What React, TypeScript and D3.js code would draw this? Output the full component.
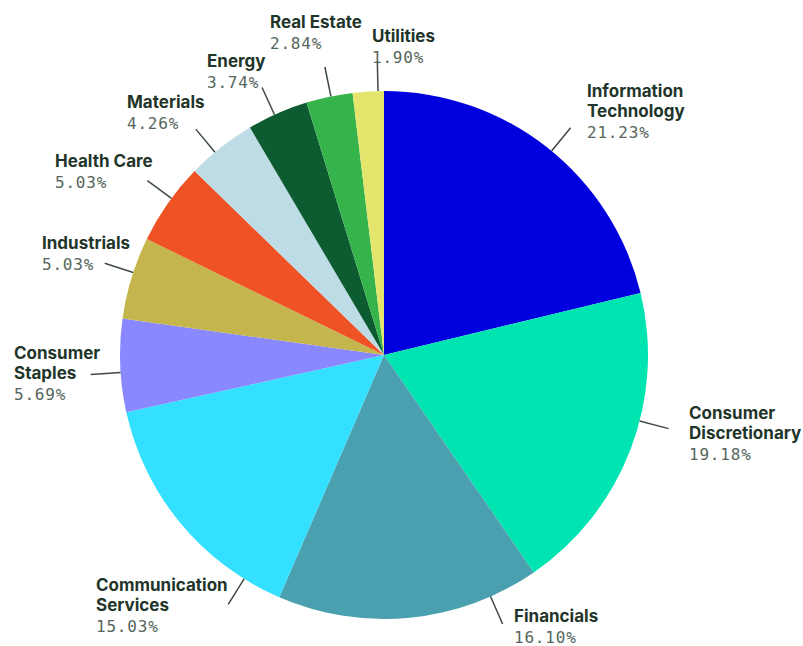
import React from "react";
import * as d3 from "d3";

// ---- data ----
const categories = [
  "Information Technology",
  "Consumer Discretionary",
  "Financials",
  "Communication Services",
  "Consumer Staples",
  "Industrials",
  "Health Care",
  "Materials",
  "Energy",
  "Real Estate",
  "Utilities",
];
const weights = [21.23, 19.18, 16.1, 15.03, 5.69, 5.03, 5.03, 4.26, 3.74, 2.84, 1.9];

// ---- styles / layout ----
const colors = [
  "#0000DE",
  "#00E4B2",
  "#4AA0AF",
  "#33E0FF",
  "#8A88FF",
  "#C4B64C",
  "#EF5325",
  "#BDDCE5",
  "#0D5C31",
  "#36B44B",
  "#E4E56C",
];
const wrapLabel = [true, true, false, true, true, false, false, false, false, false, false];
// leader line angle (degrees clockwise from 12 o'clock)
const labelAngle = [39.4, 104.5, 156.2, 212, 266.2, 288.2, 306.4, 320.2, 335.5, 348.4, 358.7];
const labelX = [587, 689, 514, 96, 14, 42, 55, 127, 207, 270, 372];
const labelY = [97, 419, 622, 591, 359, 249, 167, 108, 67, 28, 42];

const W = 803;
const H = 646;
const CX = 384;
const CY = 355;
const R = 264;
const R_LINE = 294;
const LINE_H = 20;

export default function App() {
  const pie = d3
    .pie<number>()
    .sort(null)
    .value((d) => d)
    .startAngle(0)
    .endAngle(2 * Math.PI);
  const arcs = pie(weights);
  const arc = d3.arc<d3.PieArcDatum<number>>().innerRadius(0).outerRadius(R);
  const fmt = d3.format(".2f");

  return (
    <svg
      width={W}
      height={H}
      viewBox={`0 0 ${W} ${H}`}
      style={{ position: "absolute", left: 0, top: 0, background: "#fff" }}
    >
      <g transform={`translate(${CX},${CY})`}>
        {arcs.map((a, i) => (
          <path key={i} d={arc(a) || ""} fill={colors[i]} />
        ))}
        {arcs.map((a, i) => {
          const t = (labelAngle[i] * Math.PI) / 180;
          const [x1, y1] = d3.pointRadial(t, R);
          const [x2, y2] = d3.pointRadial(t, R_LINE);
          return (
            <line
              key={"l" + i}
              x1={x1}
              y1={y1}
              x2={x2}
              y2={y2}
              stroke="#3E4A43"
              strokeWidth={1.5}
            />
          );
        })}
      </g>
      {categories.map((c, i) => {
        const lines = wrapLabel[i]
          ? [c.slice(0, c.indexOf(" ")), c.slice(c.indexOf(" ") + 1)]
          : [c];
        return (
          <g key={"t" + i}>
            <text
              x={labelX[i]}
              y={labelY[i]}
              fontFamily="Inter, 'Noto Sans', sans-serif"
              fontWeight={700}
              fontSize={17}
              fill="#1F3529"
            >
              {lines.map((ln, j) => (
                <tspan key={j} x={labelX[i]} dy={j === 0 ? 0 : LINE_H}>
                  {ln}
                </tspan>
              ))}
            </text>
            <text
              x={labelX[i]}
              y={labelY[i] + lines.length * LINE_H + 1}
              fontFamily="'DejaVu Sans Mono', monospace"
              fontSize={16}
              letterSpacing={0.8}
              fill="#55665C"
            >
              {fmt(weights[i]) + "%"}
            </text>
          </g>
        );
      })}
    </svg>
  );
}
